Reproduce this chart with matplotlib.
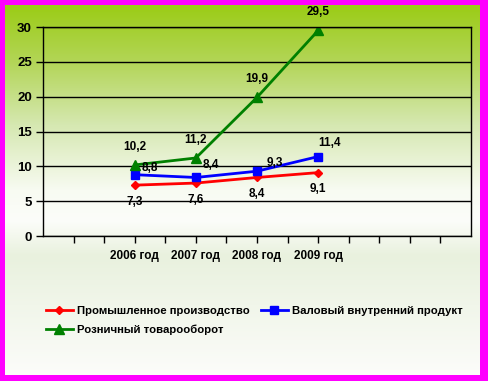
import numpy as np
import matplotlib
matplotlib.use("Agg")
from matplotlib import pyplot as plt

plt.rcParams['font.family'] = ['Liberation Sans', 'DejaVu Sans']
plt.rcParams['font.weight'] = 'bold'

years = ["2006 год", "2007 год", "2008 год", "2009 год"]
xpos = [3, 5, 7, 9]   # category slots on a 14-slot axis
prom = [7.3, 7.6, 8.4, 9.1]
vvp = [8.8, 8.4, 9.3, 11.4]
rozn = [10.2, 11.2, 19.9, 29.5]
names = ["Промышленное производство", "Валовый внутренний продукт", "Розничный товарооборот"]

W, H = 488, 381
fig = plt.figure(figsize=(W / 100, H / 100), dpi=100)
fig.patch.set_facecolor("#ff00ff")

# background gradient inside the magenta frame
stops_y = [0, 55, 120, 185, 215, 250, 300, 370]
stops_c = np.array([
    [155, 204, 22],
    [178, 213, 85],
    [214, 232, 178],
    [248, 251, 242],
    [252, 253, 250],
    [233, 241, 222],
    [241, 246, 234],
    [252, 252, 250],
]) / 255.0
rows = np.arange(370)
grad = np.stack([np.interp(rows, stops_y, stops_c[:, k]) for k in range(3)], axis=-1)
img = np.repeat(grad[:, None, :], 2, axis=1)
bg = fig.add_axes([5 / W, 1 - 375 / H, (480 - 5) / W, (375 - 5) / H])
bg.imshow(img, aspect="auto", interpolation="bilinear")
bg.set_axis_off()

ax = fig.add_axes([43 / W, 1 - 236 / H, (471 - 43) / W, (236 - 27) / H])
ax.set_facecolor("none")
ax.set_xlim(0, 14)
ax.set_ylim(0, 30)
ax.set_yticks(range(0, 31, 5))
ax.set_xticks(range(1, 14))
labels = [""] * 13
for x, y in zip(xpos, years):
    labels[x - 1] = y
ax.set_xticklabels(labels)
ax.tick_params(axis="both", length=5, width=1, color="black")
ax.tick_params(axis="x", pad=5, labelsize=8.5)
ax.tick_params(axis="y", pad=3, labelsize=9.5)
for s in ax.spines.values():
    s.set_color("black")
    s.set_linewidth(1)
ax.yaxis.grid(True, color="black", linewidth=1)
ax.set_axisbelow(True)

l1, = ax.plot(xpos, prom, color="#ff0000", lw=2, marker="D", ms=4.5, label=names[0])
l2, = ax.plot(xpos, vvp, color="#0000ff", lw=2, marker="s", ms=6, label=names[1])
l3, = ax.plot(xpos, rozn, color="#008000", lw=2, marker="^", ms=7, label=names[2])

def fmt(v):
    return ("%.1f" % v).replace(".", ",")

for x, v in zip(xpos, rozn):
    ax.annotate(fmt(v), (x, v), xytext=(0, 13), textcoords="offset points",
                ha="center", va="center", fontsize=8.5, fontweight="bold")
blue_off = [(11, 5), (11, 9), (13, 6), (8, 10)]
for x, v, o in zip(xpos, vvp, blue_off):
    ax.annotate(fmt(v), (x, v), xytext=o, textcoords="offset points",
                ha="center", va="center", fontsize=8.5, fontweight="bold")
for x, v in zip(xpos, prom):
    ax.annotate(fmt(v), (x, v), xytext=(0, -12), textcoords="offset points",
                ha="center", va="center", fontsize=8.5, fontweight="bold")

fig.legend([l1, l3, l2], [names[0], names[2], names[1]], ncol=2,
           loc="upper left", bbox_to_anchor=(46 / W, 1 - 306 / H),
           frameon=False, fontsize=8.2, handlelength=2.35, handletextpad=0.35,
           columnspacing=1.0, labelspacing=0.75, borderaxespad=0, borderpad=0)

fig.savefig("out.png", dpi=100, facecolor=fig.get_facecolor())
